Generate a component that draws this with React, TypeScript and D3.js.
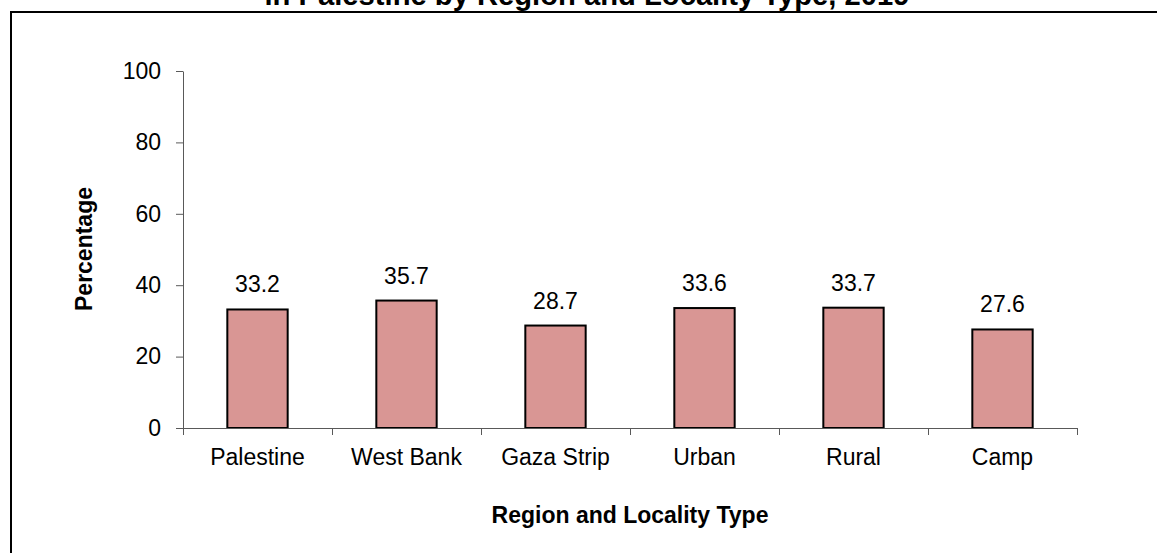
import React, { useEffect, useRef } from 'react';
import * as d3 from 'd3';

const categories = ['Palestine', 'West Bank', 'Gaza Strip', 'Urban', 'Rural', 'Camp'];
const values = [33.2, 35.7, 28.7, 33.6, 33.7, 27.6];
const yTicks = [0, 20, 40, 60, 80, 100];

const titleText = 'in Palestine by Region and Locality Type, 2019';
const xTitle = 'Region and Locality Type';
const yTitle = 'Percentage';

const W = 1157;
const H = 553;
const margin = { top: 71, left: 183 };
const plotW = 894;
const baseY = 428;
const FONT = '"Liberation Sans", Arial, sans-serif';

const App = () => {
  const svgRef = useRef<SVGSVGElement>(null);

  useEffect(() => {
    const svg = d3.select(svgRef.current);
    svg.selectAll('*').remove();

    const x = d3.scaleBand().domain(categories).range([margin.left, margin.left + plotW]).padding(0);
    const y = d3.scaleLinear().domain([0, 100]).range([baseY, margin.top]);

    // outer frame (runs past the right/bottom edge)
    svg.append('rect')
      .attr('x', 11).attr('y', 12)
      .attr('width', W + 20).attr('height', H + 20)
      .attr('fill', 'white').attr('stroke', 'black').attr('stroke-width', 2);

    // title, clipped at the top of the page like the original
    svg.append('text')
      .attr('x', 587).attr('y', 5)
      .attr('text-anchor', 'middle')
      .style('font-family', FONT).style('font-weight', 'bold').style('font-size', '29.2px')
      .text(titleText);

    // bars
    const bw = x.bandwidth() * 0.405;
    svg.append('g').selectAll('rect')
      .data(values)
      .enter()
      .append('rect')
      .attr('x', (d, i) => (x(categories[i]) as number) + x.bandwidth() / 2 - bw / 2)
      .attr('y', d => y(d))
      .attr('width', bw)
      .attr('height', d => y(0) - y(d))
      .attr('fill', '#D99694')
      .attr('stroke', 'black')
      .attr('stroke-width', 2);

    // value labels
    svg.append('g').selectAll('text')
      .data(values)
      .enter()
      .append('text')
      .attr('x', (d, i) => (x(categories[i]) as number) + x.bandwidth() / 2)
      .attr('y', d => y(d) - 17)
      .attr('text-anchor', 'middle')
      .style('font-family', FONT).style('font-size', '23px')
      .text(d => d.toFixed(1));

    // y axis
    const yAxis = svg.append('g')
      .attr('transform', `translate(${margin.left},0)`)
      .call(d3.axisLeft(y).tickValues(yTicks).tickSize(7).tickPadding(15).tickSizeOuter(0));
    yAxis.select('.domain').attr('stroke', '#595959');
    yAxis.selectAll('.tick line').attr('stroke', '#595959');
    yAxis.selectAll('.tick text')
      .style('font-family', FONT).style('font-size', '23px').attr('fill', 'black');

    // x axis line + ticks at category boundaries
    const xg = svg.append('g');
    xg.append('line')
      .attr('x1', margin.left).attr('x2', margin.left + plotW)
      .attr('y1', y(0) + 0.5).attr('y2', y(0) + 0.5)
      .attr('stroke', '#595959');
    const bounds = categories.map(c => x(c) as number).concat([margin.left + plotW]);
    xg.selectAll('line.tk')
      .data(bounds)
      .enter()
      .append('line')
      .attr('class', 'tk')
      .attr('x1', d => Math.round(d) + 0.5).attr('x2', d => Math.round(d) + 0.5)
      .attr('y1', y(0)).attr('y2', y(0) + 7)
      .attr('stroke', '#595959');
    xg.selectAll('text')
      .data(categories)
      .enter()
      .append('text')
      .attr('x', d => (x(d) as number) + x.bandwidth() / 2)
      .attr('y', 465)
      .attr('text-anchor', 'middle')
      .style('font-family', FONT).style('font-size', '23px')
      .text(d => d);

    // axis titles
    svg.append('text')
      .attr('x', margin.left + plotW / 2).attr('y', 523)
      .attr('text-anchor', 'middle')
      .style('font-family', FONT).style('font-weight', 'bold').style('font-size', '23px')
      .text(xTitle);

    svg.append('text')
      .attr('transform', `translate(92,249) rotate(-90)`)
      .attr('text-anchor', 'middle')
      .style('font-family', FONT).style('font-weight', 'bold').style('font-size', '23px')
      .text(yTitle);
  }, []);

  return (
    <svg
      ref={svgRef}
      width={W}
      height={H}
      style={{ position: 'absolute', left: 0, top: 0, background: 'white' }}
    />
  );
};

export default App;
